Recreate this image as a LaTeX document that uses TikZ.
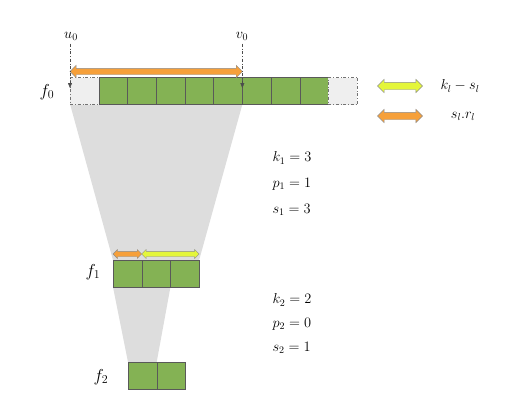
\documentclass[tikz,border=0pt]{standalone}
\usepackage{xcolor}
\usetikzlibrary{shapes.arrows,arrows.meta,backgrounds}

\definecolor{cellgreen}{RGB}{132,178,84}
\definecolor{arrorange}{RGB}{246,160,58}
\definecolor{arryellow}{RGB}{228,246,58}
\definecolor{conegray}{RGB}{221,221,221}
\definecolor{padgray}{RGB}{239,239,239}

\begin{document}
\begin{tikzpicture}[x=1pt,y=-1pt,
        cell/.style={draw=black!65, fill=cellgreen, minimum width=28.7pt, minimum height=27pt, inner sep=0pt, outer sep=0pt},
        padcell/.style={cell, fill=padgray, draw=black!55, dash dot},
        fatarrow/.style={double arrow, draw=black!45, inner xsep=0pt, inner ysep=3pt, double arrow head extend=3pt},
        guide/.style={draw=black!70, dash dot, -{Triangle[length=5pt,width=4pt]}},
        flabel/.style={font=\LARGE},
        eqlabel/.style={font=\Large, anchor=west}]

                \useasboundingbox (0,0) rectangle (515,415);

                % layer f0 with its padding
                \node[padcell] (p0) at (84.5,91) {};
                \foreach \i in {1,...,8}
                    \node[cell] (a\i) at ({84.5+28.7*\i},91) {};
                \node[padcell] (p9) at (342.8,91) {};

                % layer f1
                \foreach \i in {1,2,3}
                    \node[cell] (g\i) at ({98.65+28.7*\i},273.75) {};

                % layer f2
                \foreach \i in {1,2}
                    \node[cell] (h\i) at ({113.65+28.7*\i},375.5) {};

                \begin{scope}[on background layer]
                    \fill[conegray] (p0.south west) -- (a5.south east) -- (g3.north east) -- (g1.north west) -- cycle;
                    \fill[conegray] (g1.south west) -- (g2.south east) -- (h2.north west) -- (h1.north west) -- cycle;
                \end{scope}

                \node[flabel] (f0) at (47,92) {$f_0$};
                \node[flabel] (f1) at (93,272) {$f_1$};
                \node[flabel] (f2) at (101,377) {$f_2$};

                % receptive field of the input
                \node[font=\Large] (u0) at (71,36) {$u_0$};
                \node[font=\Large] (v0) at (242,36) {$v_0$};
                \coordinate (ut) at (70,88);
                \coordinate (vt) at (242.35,88);

                \node[fatarrow, fill=arrorange, minimum height=172.4pt] (r0) at (156.2,71.5) {};

                \draw[guide] (u0.south -| ut) -- (ut);
                \draw[guide] (v0.south -| vt) -- (vt);

                \node[fatarrow, fill=arrorange, minimum height=28.7pt, inner ysep=2.5pt, double arrow head extend=1.8pt] (r1) at (127.35,254) {};
                \node[fatarrow, fill=arryellow, minimum height=57.4pt, inner ysep=2.5pt, double arrow head extend=1.8pt] (q1) at (170.4,254) {};

                % legend
                \node[fatarrow, fill=arryellow, minimum height=45pt, inner ysep=3.5pt] (ly) at (400,86) {};
                \node[fatarrow, fill=arrorange, minimum height=45pt, inner ysep=3.5pt] (lo) at (400,116) {};
                \node[font=\Large] (ky) at (460,86) {$k_l - s_l$};
                \node[font=\Large] (ko) at (463,116) {$s_l.r_l$};

                % hyper-parameters
                \node[eqlabel] (k1) at (269,158) {$k_1 = 3$};
                \node[eqlabel] (q1p) at (269,184) {$p_1 = 1$};
                \node[eqlabel] (s1) at (269,210) {$s_1 = 3$};
                \node[eqlabel] (k2) at (269,300) {$k_2 = 2$};
                \node[eqlabel] (q2p) at (269,324) {$p_2 = 0$};
                \node[eqlabel] (s2) at (269,348) {$s_2 = 1$};
            \end{tikzpicture}
\end{document}
